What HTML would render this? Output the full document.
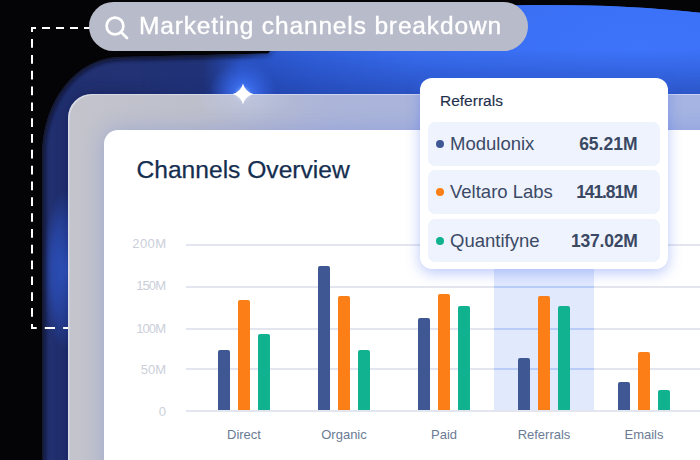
<!DOCTYPE html>
<html><head><meta charset="utf-8">
<style>
*{margin:0;padding:0;box-sizing:border-box}
html,body{width:700px;height:460px;overflow:hidden;background:#040406;font-family:"Liberation Sans",sans-serif}
.abs{position:absolute}
#glow{position:absolute;left:0;top:0}
#frame{position:absolute;left:68px;top:94px;width:700px;height:460px;border-radius:24px;background:linear-gradient(90deg,#c3c4cc 0px,#bdbfcb 130px,#acb5d9 260px,#a5b4e3 632px);box-shadow:inset 1.5px 1px 0 rgba(235,238,250,.55)}
#card{position:absolute;left:104px;top:130px;width:700px;height:460px;border-radius:14px;background:#ffffff;box-shadow:0 0 22px rgba(90,115,215,.32)}
#pill{position:absolute;left:88.5px;top:2.3px;width:439px;height:49.2px;border-radius:25px;background:#b8bbc9}
#pilltext{position:absolute;left:139px;top:11px;font-size:23px;line-height:30px;color:#fff;letter-spacing:0.8px;white-space:nowrap;transform:scaleX(1.065);transform-origin:0 0;-webkit-text-stroke:0.35px #fff}
#title{position:absolute;left:136.5px;top:155px;font-size:24.6px;line-height:30px;color:#142e50;white-space:nowrap;-webkit-text-stroke:0.25px #142e50}
.yl{position:absolute;width:60px;left:106px;text-align:right;font-size:13px;line-height:15px;color:#cbcfda}
.gl{position:absolute;left:186px;width:520px;height:2px;background:#e3e6ee}
.bar{position:absolute;width:12px;border-radius:2px 2px 0 0}
.b{background:#3f5792}.o{background:#fb7e16}.g{background:#11b28f}
.cl{position:absolute;width:100px;text-align:center;font-size:13px;line-height:15px;color:#6b7b95}
#hl{position:absolute;left:494px;top:200px;width:100px;height:210px;background:#e1e9fd}
.glb{position:absolute;left:494px;width:100px;height:2px;background:#b9cdf8}
#tip{position:absolute;left:420px;top:78px;width:248px;height:191px;border-radius:12px;background:#fff;box-shadow:0 4px 14px rgba(60,100,240,.35)}
#tiphead{position:absolute;left:20px;top:14px;font-size:15.5px;line-height:18px;color:#1f2f4c;-webkit-text-stroke:0.15px #1f2f4c}
.row{position:absolute;left:8px;width:232px;height:43.5px;border-radius:7px;background:#eff3fd}
.dot{position:absolute;left:8px;top:18px;width:8px;height:8px;border-radius:50%}
.nm{position:absolute;left:22px;top:11px;font-size:18.5px;line-height:22px;color:#3b4a66;white-space:nowrap}
.val{position:absolute;right:22.5px;top:11px;font-size:17.5px;line-height:22px;font-weight:bold;color:#3a4863;white-space:nowrap}
</style></head><body>
<svg id="glow" width="700" height="460" viewBox="0 0 700 460">
  <defs>
    <linearGradient id="gbase" x1="0" y1="0" x2="700" y2="0" gradientUnits="userSpaceOnUse">
      <stop offset="0" stop-color="#22306e"/>
      <stop offset="0.29" stop-color="#223377"/>
      <stop offset="0.345" stop-color="#2b55c8"/>
      <stop offset="0.45" stop-color="#2f5dd8"/>
      <stop offset="0.7" stop-color="#3468e8"/>
      <stop offset="1" stop-color="#3a70f5"/>
    </linearGradient>
    <radialGradient id="gbright" cx="640" cy="50" r="380" gradientUnits="userSpaceOnUse" gradientTransform="translate(640 50) scale(1 0.45) translate(-640 -50)">
      <stop offset="0" stop-color="#3d74fa" stop-opacity="1"/>
      <stop offset="0.6" stop-color="#3a6ff3" stop-opacity=".8"/>
      <stop offset="1" stop-color="#3366e6" stop-opacity="0"/>
    </radialGradient>
    <radialGradient id="gspark" cx="243" cy="94" r="34" gradientUnits="userSpaceOnUse">
      <stop offset="0" stop-color="#4a80ff" stop-opacity="1"/>
      <stop offset="0.5" stop-color="#3a6cf0" stop-opacity=".6"/>
      <stop offset="1" stop-color="#3464e0" stop-opacity="0"/>
    </radialGradient>
    <radialGradient id="gleft" cx="66" cy="270" r="80" gradientUnits="userSpaceOnUse" gradientTransform="translate(66 270) scale(0.3 1) translate(-66 -270)">
      <stop offset="0" stop-color="#3360d8" stop-opacity="1"/>
      <stop offset="0.6" stop-color="#2f56c8" stop-opacity=".6"/>
      <stop offset="1" stop-color="#2d52c2" stop-opacity="0"/>
    </radialGradient>
    <linearGradient id="mlg" x1="235" y1="0" x2="290" y2="0" gradientUnits="userSpaceOnUse"><stop offset="0" stop-color="#fff"/><stop offset="1" stop-color="#000"/></linearGradient>
    <mask id="mleft" maskUnits="userSpaceOnUse" x="0" y="0" width="700" height="460"><rect x="0" y="0" width="700" height="460" fill="url(#mlg)"/></mask>
    <linearGradient id="mlg2" x1="120" y1="0" x2="240" y2="0" gradientUnits="userSpaceOnUse"><stop offset="0" stop-color="#fff"/><stop offset="1" stop-color="#000"/></linearGradient>
    <mask id="mleft2" maskUnits="userSpaceOnUse" x="0" y="0" width="700" height="460"><rect x="0" y="0" width="700" height="460" fill="url(#mlg2)"/></mask>
    <linearGradient id="gvdark" x1="0" y1="50" x2="0" y2="94" gradientUnits="userSpaceOnUse"><stop offset="0" stop-color="#142a80" stop-opacity="0"/><stop offset="1" stop-color="#142a80" stop-opacity=".38"/></linearGradient>
    <linearGradient id="mrg" x1="140" y1="0" x2="260" y2="0" gradientUnits="userSpaceOnUse"><stop offset="0" stop-color="#000"/><stop offset="1" stop-color="#fff"/></linearGradient>
    <mask id="mright" maskUnits="userSpaceOnUse" x="0" y="0" width="700" height="460"><rect x="0" y="0" width="700" height="460" fill="url(#mrg)"/></mask>
    <clipPath id="cglow"><path d="M42,470 L42,155 A78,98 0 0 1 120,57 L268,53.5 Q300,8 530,5 Q630,4 710,14 L710,470 Z"/></clipPath>
    <filter id="blur2" x="-10%" y="-10%" width="120%" height="120%"><feGaussianBlur stdDeviation="2"/></filter>
    <filter id="blur3" x="-10%" y="-10%" width="120%" height="120%"><feGaussianBlur stdDeviation="3"/></filter>
    <filter id="blur6" x="-10%" y="-10%" width="120%" height="120%"><feGaussianBlur stdDeviation="6"/></filter>
  </defs>
  <path d="M42,470 L42,155 A78,98 0 0 1 120,57 L268,53.5 Q300,8 530,5 Q630,4 710,14 L710,470 Z" fill="url(#gbase)"/>
  <path d="M42,470 L42,155 A78,98 0 0 1 120,57 L268,53.5 Q300,8 530,5 Q630,4 710,14 L710,470 Z" fill="url(#gbright)"/>
  <rect x="92" y="40" width="620" height="54" fill="url(#gvdark)" clip-path="url(#cglow)" mask="url(#mright)"/>
  <rect x="0" y="0" width="700" height="460" fill="url(#gspark)"/>
  <rect x="40" y="180" width="30" height="180" fill="url(#gleft)"/>
  <g clip-path="url(#cglow)" mask="url(#mleft)">
    <path d="M42,470 L42,155 A78,98 0 0 1 120,57 L268,53.5 Q300,8 530,5 Q630,4 710,14 L710,470 Z" fill="none" stroke="#0a0d1e" stroke-width="6" filter="url(#blur2)" opacity=".85"/>
  </g>
  <g clip-path="url(#cglow)" mask="url(#mleft2)">
    <rect x="68" y="94" width="700" height="460" rx="24" fill="none" stroke="#15225a" stroke-width="10" filter="url(#blur6)" opacity=".55"/>
  </g>
</svg>
<div id="frame"></div>
<div class="abs" style="left:193px;top:94px;width:100px;height:36px;background:radial-gradient(ellipse 50px 30px at 50px 0px,rgba(200,210,240,.45),rgba(200,210,240,0))"></div>
<div id="card"></div>

<!-- dashed connector -->
<svg class="abs" style="left:0;top:0" width="700" height="460">
  <path d="M92,28 H31" fill="none" stroke="#fff" stroke-width="2" stroke-dasharray="8 6"/>
  <path d="M32,27 V329" fill="none" stroke="#fff" stroke-width="2" stroke-dasharray="8.7 7.12" stroke-dashoffset="3.7"/>
  <path d="M31,328 H68" fill="none" stroke="#fff" stroke-width="2" stroke-dasharray="10.2 8.1" stroke-dashoffset="4.5"/>
</svg>

<div id="pill"></div>
<svg class="abs" style="left:0;top:0" width="160" height="60">
  <circle cx="115" cy="26" r="8.4" fill="none" stroke="#fff" stroke-width="2.7"/>
  <path d="M121.2,32.2 L127,38" stroke="#fff" stroke-width="2.7" stroke-linecap="round"/>
</svg>
<div id="pilltext">Marketing channels breakdown</div>

<!-- sparkle -->
<svg class="abs" style="left:223px;top:74px" width="40" height="40" viewBox="0 0 40 40">
  <defs><radialGradient id="sg"><stop offset="0" stop-color="#fff" stop-opacity=".9"/><stop offset="1" stop-color="#fff" stop-opacity="0"/></radialGradient></defs>
  <circle cx="20" cy="20" r="9" fill="url(#sg)" opacity=".5"/>
  <path d="M20,9.5 Q22.2,17.8 30.5,20 Q22.2,22.2 20,30.5 Q17.8,22.2 9.5,20 Q17.8,17.8 20,9.5Z" fill="#fff"/>
</svg>

<div id="title">Channels Overview</div>

<div class="gl" style="top:244px"></div>
<div class="gl" style="top:286px"></div>
<div class="gl" style="top:328px"></div>
<div class="gl" style="top:368px"></div>
<div class="gl" style="top:410px"></div>
<div id="hl"></div>
<div class="glb" style="top:244px"></div>
<div class="glb" style="top:286px"></div>
<div class="glb" style="top:328px"></div>
<div class="glb" style="top:368px"></div>

<div class="yl" style="top:236px;letter-spacing:0.4px;right:auto;width:60.4px">200M</div>
<div class="yl" style="top:277.5px;letter-spacing:-0.9px;width:59.1px">150M</div>
<div class="yl" style="top:320.5px;letter-spacing:-0.9px;width:59.1px">100M</div>
<div class="yl" style="top:362px">50M</div>
<div class="yl" style="top:404.3px">0</div>

<!-- bars -->
<div class="bar b" style="left:218px;top:350px;height:60px"></div>
<div class="bar o" style="left:238px;top:300px;height:110px"></div>
<div class="bar g" style="left:258px;top:334px;height:76px"></div>

<div class="bar b" style="left:318px;top:266px;height:144px"></div>
<div class="bar o" style="left:338px;top:296px;height:114px"></div>
<div class="bar g" style="left:358px;top:350px;height:60px"></div>

<div class="bar b" style="left:418px;top:318px;height:92px"></div>
<div class="bar o" style="left:438px;top:294px;height:116px"></div>
<div class="bar g" style="left:458px;top:306px;height:104px"></div>

<div class="bar b" style="left:518px;top:358px;height:52px"></div>
<div class="bar o" style="left:538px;top:296px;height:114px"></div>
<div class="bar g" style="left:558px;top:306px;height:104px"></div>

<div class="bar b" style="left:618px;top:382px;height:28px"></div>
<div class="bar o" style="left:638px;top:352px;height:58px"></div>
<div class="bar g" style="left:658px;top:390px;height:20px"></div>

<div class="cl" style="left:194px;top:426.5px">Direct</div>
<div class="cl" style="left:294px;top:426.5px">Organic</div>
<div class="cl" style="left:394px;top:426.5px">Paid</div>
<div class="cl" style="left:494px;top:426.5px">Referrals</div>
<div class="cl" style="left:594px;top:426.5px">Emails</div>

<div id="tip">
  <div id="tiphead">Referrals</div>
  <div class="row" style="top:44px"><div class="dot b"></div><div class="nm">Modulonix</div><div class="val">65.21M</div></div>
  <div class="row" style="top:92.3px"><div class="dot o"></div><div class="nm">Veltaro Labs</div><div class="val" style="letter-spacing:-1.1px;right:23.4px">141.81M</div></div>
  <div class="row" style="top:140.5px"><div class="dot g"></div><div class="nm">Quantifyne</div><div class="val" style="letter-spacing:-0.2px;right:22.3px">137.02M</div></div>
</div>
</body></html>
